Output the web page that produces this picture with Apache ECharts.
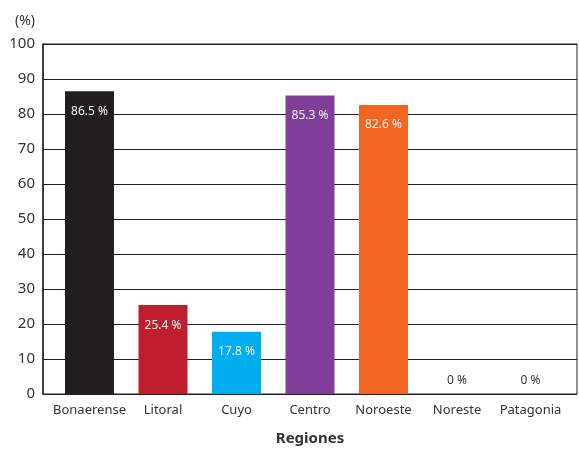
<!DOCTYPE html>
<html>
<head>
<meta charset="utf-8">
<script src="https://cdn.jsdelivr.net/npm/echarts@6/dist/echarts.min.js"></script>
<style>
  html, body { margin: 0; padding: 0; background: #fff; }
  #chart { width: 579px; height: 457px; }
</style>
</head>
<body>
<div id="chart"></div>
<script>
// Regional shares (%) by region
const regions = ['Bonaerense', 'Litoral', 'Cuyo', 'Centro', 'Noroeste', 'Noreste', 'Patagonia'];
const values = [86.5, 25.4, 17.8, 85.3, 82.6, 0, 0];
const barColors = ['#231f20', '#be1e2d', '#00aeef', '#7f3f98', '#f26522', '#999999', '#999999'];
const yTicks = [0, 10, 20, 30, 40, 50, 60, 70, 80, 90, 100];

const FONT = '"Noto Sans", "Open Sans", sans-serif';
const INK = '#231f20';

const chart = echarts.init(document.getElementById('chart'), null, { renderer: 'canvas' });

const barData = values.map((v, i) => ({
  value: v,
  itemStyle: { color: barColors[i] },
  label: v === 0
    ? { position: 'top', distance: 7, color: '#333' }
    : { position: 'insideTop', distance: 14, color: '#f2f2f2' }
}));

chart.setOption({
  animation: false,
  backgroundColor: '#fff',
  title: {
    text: '(%)',
    left: 10,
    top: 9,
    textStyle: { fontFamily: FONT, fontSize: 14, fontWeight: 'normal', color: '#333' }
  },
  grid: [
    { left: 43, right: 2, top: 44, bottom: 63, show: true, borderColor: INK, borderWidth: 1, backgroundColor: 'transparent' },
    { left: 52.75, right: 11.75, top: 44, bottom: 63 }
  ],
  xAxis: [
    { type: 'value', gridIndex: 0, min: 0, max: 1, show: false },
    {
      type: 'category', gridIndex: 1, data: regions,
      axisLine: { show: false },
      axisTick: { show: false },
      axisLabel: { fontFamily: FONT, fontSize: 13, color: '#333', margin: 10, interval: 0 },
      name: 'Regiones',
      nameLocation: 'middle',
      nameGap: 37,
      nameTextStyle: { fontFamily: FONT, fontSize: 15, fontWeight: 'bold', color: '#333' }
    }
  ],
  yAxis: [
    {
      type: 'value', gridIndex: 0, min: yTicks[0], max: yTicks[yTicks.length - 1], interval: 10,
      axisLine: { show: true, lineStyle: { color: INK, width: 1.5 } },
      axisTick: { show: false },
      axisLabel: { fontFamily: FONT, fontSize: 15, color: '#333', margin: 8 },
      splitLine: { show: true, lineStyle: { color: INK, width: 1 } }
    },
    {
      type: 'value', gridIndex: 1, min: 0, max: 100, show: false
    }
  ],
  series: [
    {
      type: 'bar',
      xAxisIndex: 1,
      yAxisIndex: 1,
      data: barData,
      barWidth: 49,
      label: {
        show: true,
        fontFamily: FONT,
        fontSize: 12,
        formatter: p => p.value + ' %'
      }
    }
  ]
});
</script>
</body>
</html>
